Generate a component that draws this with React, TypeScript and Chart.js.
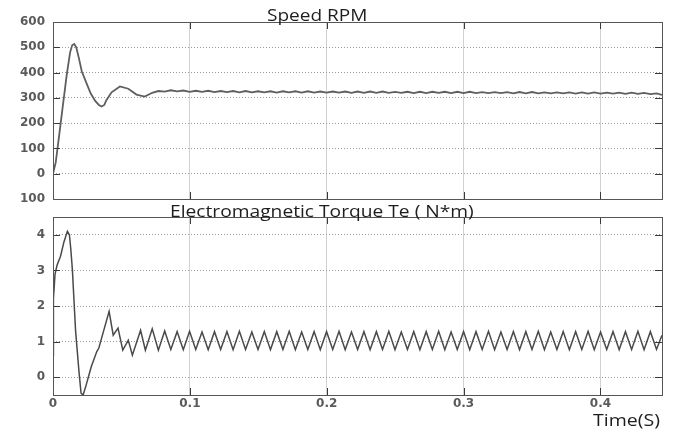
import React, { useEffect, useRef } from 'react';
import { Chart, registerables } from 'chart.js';

Chart.register(...registerables);

// ---- data ----
const xTicks = [0, 0.1, 0.2, 0.3, 0.4];
const xTickLabels = ['0', '0.1', '0.2', '0.3', '0.4'];
const speedTicks = [-100, 0, 100, 200, 300, 400, 500, 600];
const speedTickLabels = ['100', '0', '100', '200', '300', '400', '500', '600'];
const torqueTicks = [0, 1, 2, 3, 4];
const torqueTickLabels = ['0', '1', '2', '3', '4'];

const speedTransientT = [0, 0.002, 0.004, 0.007, 0.010, 0.0125, 0.014, 0.0155, 0.017, 0.019, 0.021, 0.0246, 0.0275, 0.0307, 0.0335, 0.0355, 0.0375, 0.0389, 0.0428, 0.0489, 0.055, 0.061, 0.067];
const speedTransientV = [0, 45, 130, 260, 390, 480, 508, 513, 500, 455, 405, 356, 318, 289, 272, 266, 272, 290, 322, 345, 336, 313, 305];

const torqueTransientT = [0, 0.0003, 0.0015, 0.003, 0.0055, 0.008, 0.0105, 0.012, 0.013, 0.0142, 0.0148, 0.0165, 0.019, 0.0205, 0.022, 0.024, 0.028, 0.032, 0.0335, 0.037, 0.041, 0.044, 0.0475, 0.051, 0.055, 0.058, 0.064, 0.0675];
const torqueTransientV = [0.6, 2.2, 2.9, 3.15, 3.4, 3.8, 4.1, 4.0, 3.6, 3.0, 2.55, 1.3, 0.15, -0.45, -0.5, -0.25, 0.3, 0.72, 0.82, 1.3, 1.85, 1.18, 1.38, 0.76, 1.04, 0.62, 1.32, 0.76];

const steadyT = [
  0.0725, 0.0770, 0.0816, 0.0861, 0.0907, 0.0952, 0.0998, 0.1043, 0.1089, 0.1134,
  0.1180, 0.1225, 0.1271, 0.1316, 0.1362, 0.1407, 0.1453, 0.1498, 0.1544, 0.1589,
  0.1635, 0.1680, 0.1726, 0.1771, 0.1817, 0.1862, 0.1908, 0.1953, 0.1999, 0.2044,
  0.2090, 0.2135, 0.2181, 0.2226, 0.2272, 0.2317, 0.2363, 0.2408, 0.2454, 0.2499,
  0.2545, 0.2590, 0.2636, 0.2681, 0.2727, 0.2772, 0.2818, 0.2863, 0.2909, 0.2954,
  0.3000, 0.3045, 0.3091, 0.3136, 0.3182, 0.3227, 0.3273, 0.3318, 0.3364, 0.3409,
  0.3455, 0.3500, 0.3546, 0.3591, 0.3637, 0.3682, 0.3728, 0.3773, 0.3819, 0.3864,
  0.3910, 0.3955, 0.4001, 0.4046, 0.4092, 0.4137, 0.4183, 0.4228, 0.4274, 0.4319,
  0.4365, 0.4410, 0.4450,
];
const speedSteadyV = [
  320, 327, 325, 330, 326, 329, 324, 328, 324, 328,
  323, 327, 323, 327, 322, 327, 322, 326, 322, 326,
  321, 326, 322, 326, 321, 326, 321, 325, 321, 325,
  321, 325, 320, 325, 320, 325, 320, 325, 320, 324,
  320, 324, 319, 324, 319, 324, 320, 324, 319, 324,
  319, 324, 319, 323, 319, 323, 319, 323, 318, 323,
  318, 323, 318, 322, 318, 322, 318, 322, 317, 322,
  317, 322, 317, 321, 317, 321, 316, 321, 316, 320,
  315, 318, 312,
];
const torqueSteadyV = [
  1.36, 0.76, 1.30, 0.78, 1.28, 0.77, 1.29, 0.78, 1.27, 0.77,
  1.28, 0.78, 1.28, 0.77, 1.29, 0.78, 1.27, 0.78, 1.28, 0.77,
  1.28, 0.78, 1.29, 0.77, 1.27, 0.78, 1.28, 0.77, 1.28, 0.78,
  1.29, 0.77, 1.27, 0.78, 1.28, 0.77, 1.28, 0.78, 1.29, 0.77,
  1.27, 0.78, 1.28, 0.77, 1.28, 0.78, 1.29, 0.77, 1.27, 0.78,
  1.28, 0.77, 1.28, 0.78, 1.29, 0.77, 1.27, 0.78, 1.28, 0.77,
  1.28, 0.78, 1.29, 0.77, 1.27, 0.78, 1.28, 0.77, 1.28, 0.78,
  1.29, 0.77, 1.27, 0.78, 1.28, 0.77, 1.28, 0.78, 1.29, 0.77,
  1.28, 0.78, 1.18,
];

const X_MAX = 0.445;

type TitleSpec = { text: string; x: number; y: number; size: number; sx: number };

function makeFramePlugin(titles: TitleSpec[]) {
  return {
    id: 'frame',
    afterDatasetsDraw(chart: any) {
      const { ctx, chartArea: a, scales } = chart;
      ctx.save();
      ctx.strokeStyle = '#3a3a3a';
      ctx.lineWidth = 1;
      const L = 7;
      ctx.beginPath();
      for (const t of scales.x.ticks) {
        const px = Math.round(scales.x.getPixelForValue(t.value)) + 0.5;
        ctx.moveTo(px, a.bottom);
        ctx.lineTo(px, a.bottom - L);
        ctx.moveTo(px, a.top);
        ctx.lineTo(px, a.top + L);
      }
      for (const t of scales.y.ticks) {
        const py = Math.round(scales.y.getPixelForValue(t.value)) + 0.5;
        ctx.moveTo(a.left, py);
        ctx.lineTo(a.left + L, py);
        ctx.moveTo(a.right, py);
        ctx.lineTo(a.right - L, py);
      }
      ctx.stroke();
      ctx.strokeStyle = '#555';
      ctx.strokeRect(Math.round(a.left) + 0.5, Math.round(a.top) + 0.5, Math.round(a.right - a.left), Math.round(a.bottom - a.top));
      ctx.fillStyle = '#1e1e1e';
      ctx.textBaseline = 'alphabetic';
      ctx.textAlign = 'left';
      for (const tt of titles) {
        ctx.save();
        ctx.translate(tt.x, tt.y);
        ctx.scale(tt.sx, 1);
        ctx.font = `${tt.size}px "Open Sans", sans-serif`;
        ctx.fillText(tt.text, 0, 0);
        ctx.restore();
      }
      ctx.restore();
    },
  };
}

const tickFont = { family: '"DejaVu Sans", sans-serif', size: 12, weight: 'bold' as const };

function baseOptions(yMin: number, yMax: number, yTicks: number[], yLabels: string[], showX: boolean, pad: any, xHeight: number) {
  return {
    responsive: false,
    animation: false as const,
    layout: { padding: pad },
    plugins: { legend: { display: false }, tooltip: { enabled: false }, title: { display: false } },
    elements: { point: { radius: 0 }, line: { tension: 0 } },
    scales: {
      x: {
        type: 'linear' as const,
        min: 0,
        max: X_MAX,
        afterBuildTicks: (s: any) => { s.ticks = xTicks.map((v) => ({ value: v })); },
        afterFit: (s: any) => { s.height = xHeight; s.paddingLeft = 0; s.paddingRight = 0; },
        ticks: {
          display: showX,
          padding: 2,
          color: '#5a5a5a',
          font: tickFont,
          maxRotation: 0,
          autoSkip: false,
          callback: (v: number) => { const i = xTicks.indexOf(v); return i >= 0 ? xTickLabels[i] : ''; },
        },
        grid: { color: '#d0d0d0', lineWidth: 1, drawTicks: false },
        border: { display: false },
      },
      y: {
        type: 'linear' as const,
        min: yMin,
        max: yMax,
        afterBuildTicks: (s: any) => { s.ticks = yTicks.map((v) => ({ value: v })); },
        afterFit: (s: any) => { s.width = 53; s.paddingTop = 0; s.paddingBottom = 0; },
        ticks: {
          padding: 8,
          color: '#5a5a5a',
          font: tickFont,
          autoSkip: false,
          callback: (v: number) => { const i = yTicks.indexOf(v); return i >= 0 ? yLabels[i] : ''; },
        },
        grid: { color: '#9a9a9a', lineWidth: 1, drawTicks: false },
        border: { display: false, dash: [1, 2] },
      },
    },
  };
}

export default function App() {
  const topRef = useRef<HTMLCanvasElement>(null);
  const botRef = useRef<HTMLCanvasElement>(null);

  useEffect(() => {
    const speedData = [
      ...speedTransientT.map((t, i) => ({ x: t, y: speedTransientV[i] })),
      ...steadyT.map((t, i) => ({ x: t, y: speedSteadyV[i] })),
    ];
    const torqueData = [
      ...torqueTransientT.map((t, i) => ({ x: t, y: torqueTransientV[i] })),
      ...steadyT.map((t, i) => ({ x: t, y: torqueSteadyV[i] })),
    ];

    const top = new Chart(topRef.current!, {
      type: 'line',
      data: {
        datasets: [{ data: speedData, borderColor: '#5f5f5f', borderWidth: 1.8, pointRadius: 0, fill: false }],
      },
      options: baseOptions(-100, 600, speedTicks, speedTickLabels, false, { left: 0, right: 11, top: 22, bottom: 10 }, 1) as any,
      plugins: [makeFramePlugin([{ text: 'Speed RPM', x: 267, y: 21, size: 16, sx: 1.19 }])],
    });

    const bot = new Chart(botRef.current!, {
      type: 'line',
      data: {
        datasets: [{ data: torqueData, borderColor: '#4a4a4a', borderWidth: 1.5, pointRadius: 0, fill: false }],
      },
      options: baseOptions(-0.5, 4.5, torqueTicks, torqueTickLabels, true, { left: 0, right: 11, top: 17, bottom: 0 }, 35) as any,
      plugins: [makeFramePlugin([
        { text: 'Electromagnetic Torque Te ( N*m)', x: 170, y: 16.5, size: 16, sx: 1.2 },
        { text: 'Time(S)', x: 593, y: 226, size: 17, sx: 1.15 },
      ])],
    });

    return () => { top.destroy(); bot.destroy(); };
  }, []);

  return (
    <div style={{ position: 'fixed', left: 0, top: 0, width: 673, height: 430, background: '#fff' }}>
      <canvas ref={botRef} width={673} height={230} style={{ position: 'absolute', left: 0, top: 200, display: 'block' }} />
      <canvas ref={topRef} width={673} height={210} style={{ position: 'absolute', left: 0, top: 0, display: 'block' }} />
    </div>
  );
}
